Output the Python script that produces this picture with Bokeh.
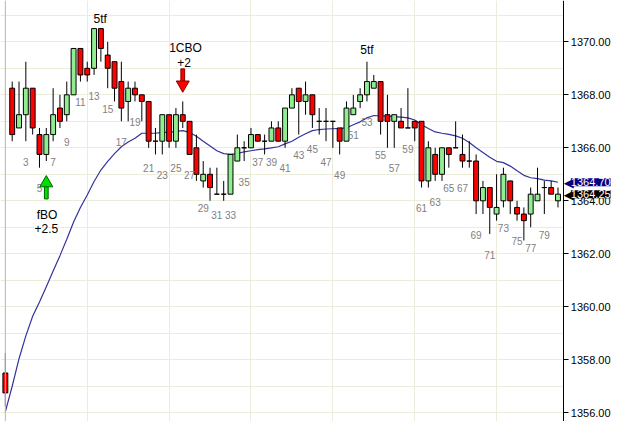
from bokeh.plotting import figure
from bokeh.models import Range1d, FixedTicker, PrintfTickFormatter, Label, Span, ColumnDataSource
from bokeh.core.properties import value
from bokeh.embed import file_html
from bokeh.resources import INLINE

# ---- data (bar index 0 = previous session's last bar) ----
opens = [1357.5, 1368.25, 1366.75, 1367.25, 1368.25, 1366.5, 1365.75, 1366.5, 1367.5, 1367.25,
         1368.0, 1369.75, 1369.0, 1369.0, 1370.5, 1369.5, 1369.25, 1368.5, 1367.75, 1368.25,
         1368.0, 1367.75, 1366.25, 1366.25, 1367.25, 1366.25, 1367.25, 1367.0, 1366.0, 1364.75,
         1365.0, 1364.25, 1364.25, 1364.25, 1365.5, 1366.0, 1366.0, 1366.5, 1366.25, 1366.25,
         1366.75, 1366.25, 1367.5, 1368.25, 1367.75, 1368.0, 1367.0, 1367.0, 1367.0, 1366.75,
         1366.25, 1367.25, 1367.75, 1368.0, 1368.25, 1368.5, 1367.25, 1367.0, 1367.0, 1366.75,
         1367.0, 1367.0, 1364.75, 1365.75, 1365.0, 1366.0, 1366.0, 1365.75, 1365.5, 1365.5,
         1364.0, 1364.5, 1363.5, 1364.0, 1364.75, 1363.75, 1363.5, 1363.5, 1364.0, 1364.5,
         1364.5, 1364.0]
highs = [1358.25, 1368.5, 1368.5, 1369.25, 1368.25, 1366.75, 1366.75, 1368.25, 1368.0, 1368.5,
         1369.75, 1369.75, 1369.25, 1370.5, 1370.5, 1370.0, 1369.25, 1369.25, 1368.5, 1368.5,
         1368.0, 1367.75, 1366.75, 1367.25, 1367.25, 1367.5, 1367.75, 1367.0, 1366.5, 1365.5,
         1365.25, 1365.25, 1364.75, 1365.75, 1366.5, 1366.25, 1366.75, 1366.5, 1366.5, 1367.0,
         1367.0, 1367.5, 1368.25, 1368.25, 1368.5, 1368.0, 1367.5, 1367.5, 1367.0, 1366.75,
         1367.75, 1368.0, 1368.25, 1369.25, 1368.75, 1368.5, 1368.0, 1367.25, 1367.5, 1368.25,
         1367.0, 1367.0, 1366.25, 1366.0, 1366.0, 1366.0, 1367.0, 1366.5, 1366.25, 1365.75,
         1364.75, 1364.5, 1365.0, 1365.25, 1364.75, 1364.0, 1363.75, 1364.5, 1365.25, 1364.75,
         1364.75, 1364.5]
lows = [1356.25, 1366.25, 1366.75, 1366.25, 1366.5, 1365.25, 1365.5, 1366.25, 1366.75, 1367.0,
        1368.0, 1368.5, 1368.5, 1368.75, 1369.25, 1368.25, 1367.75, 1367.0, 1367.0, 1367.75,
        1367.0, 1366.0, 1365.75, 1365.75, 1366.0, 1366.0, 1366.75, 1365.75, 1364.75, 1364.5,
        1364.0, 1364.25, 1364.0, 1364.25, 1365.5, 1365.5, 1366.0, 1366.25, 1365.75, 1366.25,
        1366.25, 1366.0, 1367.5, 1366.5, 1367.25, 1366.75, 1366.5, 1366.25, 1366.0, 1365.75,
        1366.25, 1367.25, 1367.5, 1367.75, 1368.25, 1366.5, 1366.0, 1366.0, 1366.75, 1366.75,
        1366.25, 1364.5, 1364.5, 1364.75, 1364.75, 1365.25, 1366.0, 1365.25, 1365.25, 1363.5,
        1363.5, 1362.75, 1363.25, 1363.75, 1363.5, 1363.25, 1362.5, 1363.0, 1364.0, 1363.5,
        1364.25, 1363.75]
closes = [1356.75, 1366.5, 1367.25, 1368.25, 1366.75, 1365.75, 1366.5, 1367.25, 1367.0, 1368.0,
          1369.75, 1368.75, 1368.75, 1370.5, 1369.75, 1369.0, 1368.25, 1367.5, 1368.25, 1368.0,
          1367.75, 1366.25, 1366.25, 1367.25, 1366.25, 1367.25, 1367.0, 1365.75, 1365.0, 1365.0,
          1364.5, 1364.25, 1364.25, 1365.75, 1366.0, 1366.0, 1366.5, 1366.25, 1366.25, 1366.75,
          1366.25, 1367.5, 1368.0, 1367.75, 1368.0, 1367.25, 1367.0, 1367.0, 1367.0, 1366.25,
          1367.5, 1367.5, 1368.0, 1368.5, 1368.5, 1367.0, 1367.0, 1367.25, 1366.75, 1366.75,
          1366.75, 1364.75, 1366.0, 1365.0, 1366.0, 1365.75, 1366.0, 1365.5, 1365.5, 1364.0,
          1364.5, 1363.75, 1363.75, 1365.0, 1364.0, 1363.5, 1363.25, 1364.25, 1364.25, 1364.5,
          1364.25, 1364.25]
ema20 = [1356.04, 1357.0, 1358.04, 1358.9, 1359.64, 1360.18, 1360.76, 1361.35, 1361.93, 1362.55,
         1363.2, 1363.75, 1364.22, 1364.73, 1365.16, 1365.49, 1365.78, 1366.04, 1366.22, 1366.36,
         1366.55, 1366.55, 1366.55, 1366.58, 1366.58, 1366.62, 1366.65, 1366.58, 1366.44, 1366.25,
         1366.07, 1365.89, 1365.78, 1365.75, 1365.78, 1365.85, 1365.89, 1365.93, 1365.96, 1366.0,
         1366.04, 1366.15, 1366.25, 1366.4, 1366.53, 1366.65, 1366.69, 1366.71, 1366.72, 1366.73,
         1366.75, 1366.87, 1366.98, 1367.13, 1367.22, 1367.2, 1367.2, 1367.18, 1367.16, 1367.13,
         1367.05, 1366.87, 1366.73, 1366.6, 1366.55, 1366.51, 1366.45, 1366.36, 1366.2, 1366.0,
         1365.82, 1365.64, 1365.49, 1365.44, 1365.31, 1365.13, 1364.96, 1364.87, 1364.84, 1364.78,
         1364.75, 1364.7]
bar_numbers = list(range(3, 80, 2))
y_ticks = [1356, 1358, 1360, 1362, 1364, 1366, 1368, 1370]
grid_levels = list(range(1356, 1372))
session_grid = [0, 12, 24, 36, 48, 60, 72]

# annotations: (text, bar, price)
notes = [("5tf", 13.9, 1370.87), ("1CBO", 26.4, 1369.75), ("+2", 26.2, 1369.22),
         ("5tf", 53.0, 1369.7), ("fBO", 6.1, 1363.48), ("+2.5", 6.0, 1362.95)]
down_arrow = dict(bar=26, top=1368.98, base=1368.5)
up_arrow = dict(bar=6, bottom=1364.07, base=1364.55)
ma_last = 1364.70
last_close = 1364.25

UP, DOWN = "#90EE90", "#FF0000"
FONT = "Liberation Sans"
X0, X1, AXIS_X = -0.714, 89.43, 81.86
Y0, Y1 = 1355.67, 1371.56

idx = list(range(len(opens)))
src = ColumnDataSource(dict(
    x=idx, o=opens, h=highs, l=lows, c=closes,
    top=[max(a, b) for a, b in zip(opens, closes)],
    bot=[min(a, b) for a, b in zip(opens, closes)],
    color=[UP if c > o else DOWN for o, c in zip(opens, closes)],
))

p = figure(width=615, height=421, output_backend="svg", toolbar_location=None,
           x_range=Range1d(X0, X1), y_range=Range1d(Y0, Y1),
           y_axis_location="right", min_border_left=0, min_border_top=0,
           min_border_bottom=0, min_border_right=0)
p.outline_line_color = None
p.background_fill_color = "white"
p.xaxis.visible = False

p.xgrid.ticker = FixedTicker(ticks=session_grid)
p.ygrid.ticker = FixedTicker(ticks=grid_levels)
p.xgrid.grid_line_color = "#ECECDA"
p.ygrid.grid_line_color = "#ECECDA"

ax = p.yaxis[0]
ax.fixed_location = AXIS_X
ax.ticker = FixedTicker(ticks=y_ticks)
ax.formatter = PrintfTickFormatter(format="%.2f")
ax.major_tick_out = 5
ax.major_tick_in = 0
ax.minor_tick_out = 0
ax.minor_tick_in = 0
ax.major_label_standoff = 2
ax.major_label_text_font = FONT
ax.major_label_text_font_size = "11px"
ax.major_label_text_color = "black"
ax.axis_line_color = "black"
ax.major_tick_line_color = "black"

# blank the scale area right of the price axis
p.quad(left=[AXIS_X], right=[X1], bottom=[Y0], top=[Y1], fill_color="white", line_color=None)

p.add_layout(Span(location=session_grid[0], dimension="height", line_color="#B8B8B8", line_width=1))

# MA line
p.line(idx, ema20, line_color="#33339C", line_width=1.2)

# candles
p.segment(x0="x", y0="l", x1="x", y1="h", source=src, line_color="black", line_width=1)
p.vbar(x="x", top="top", bottom="bot", width=0.72, source=src,
       fill_color="color", line_color="black", line_width=1)

# bar numbers
p.text(x=bar_numbers, y=[lows[n] - 0.78 for n in bar_numbers], text=[str(n) for n in bar_numbers],
       text_font=value(FONT), text_font_size="10px", text_color="#7F7F7F",
       text_align="center", text_baseline="middle")

# notes
p.text(x=[n[1] for n in notes], y=[n[2] for n in notes], text=[n[0] for n in notes],
       text_font=value(FONT), text_font_size="12px", text_color="black",
       text_align="center", text_baseline="middle")

# arrows
p.vbar(x=[down_arrow["bar"]], top=[down_arrow["top"]], bottom=[down_arrow["base"]], width=0.55,
       fill_color="#FF0000", line_color="#8B0000", line_width=1)
p.scatter(x=[down_arrow["bar"]], y=[down_arrow["base"] - 0.12], marker="inverted_triangle", size=13,
          fill_color="#FF0000", line_color="#8B0000", line_width=1)
p.vbar(x=[up_arrow["bar"]], top=[up_arrow["base"]], bottom=[up_arrow["bottom"]], width=0.55,
       fill_color="#00E000", line_color="#006400", line_width=1)
p.scatter(x=[up_arrow["bar"]], y=[up_arrow["base"] + 0.12], marker="triangle", size=13,
          fill_color="#00E000", line_color="#006400", line_width=1)

# price tags on the axis
for val, bg in ((ma_last, "#000080"), (last_close, "#000000")):
    p.add_layout(Label(x=AXIS_X, y=val, x_offset=0, text="\u25C0",
                       text_font="DejaVu Sans", text_font_size="13px", text_color=bg,
                       text_align="left", text_baseline="middle"))
    p.add_layout(Label(x=AXIS_X, y=val, x_offset=7, text="%.2f" % val,
                       text_font=FONT, text_font_size="11px", text_color="white",
                       text_align="left", text_baseline="middle", background_fill_color=bg))

open("out.html", "w").write(file_html(p, INLINE))
